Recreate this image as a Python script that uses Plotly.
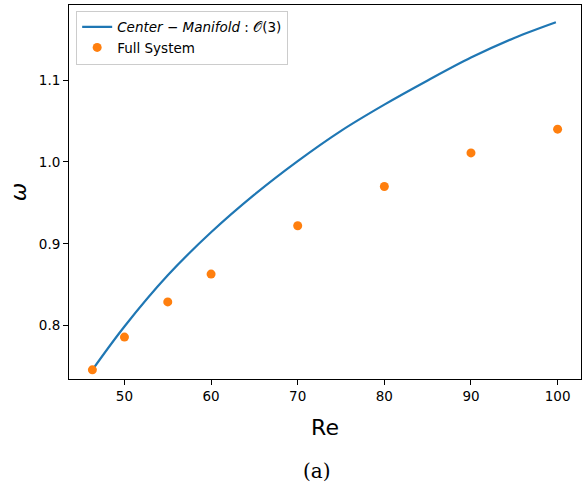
import plotly.graph_objects as go

# Center-manifold O(3) prediction
re_cm = [46.3, 50.0, 55.0, 60.0, 65.0, 70.0, 75.0, 80.0, 85.0, 90.0, 95.0, 99.8]
omega_cm = [0.746, 0.799, 0.8615, 0.914, 0.960, 1.001, 1.038, 1.070, 1.0995, 1.1275, 1.1515, 1.1707]

# Full system points
re_full = [46.3, 50, 55, 60, 70, 80, 90, 100]
omega_full = [0.746, 0.786, 0.829, 0.863, 0.922, 0.970, 1.011, 1.040]

x_ticks = [50, 60, 70, 80, 90, 100]
y_ticks = [0.8, 0.9, 1.0, 1.1]

fig = go.Figure()
fig.add_trace(go.Scatter(
    x=re_cm, y=omega_cm, mode="lines", line_shape="spline",
    line=dict(color="#1f77b4", width=2.2),
    name="<i>Center</i> − <i>Manifold</i> : 𝒪(3)",
))
fig.add_trace(go.Scatter(
    x=re_full, y=omega_full, mode="markers",
    marker=dict(color="#ff7f0e", size=9),
    name="Full System",
))

axis_common = dict(
    showline=True, linecolor="black", linewidth=1, mirror=True,
    ticks="outside", ticklen=5, tickwidth=1, tickcolor="black",
    showgrid=False, zeroline=False,
    tickfont=dict(family="DejaVu Sans", size=13.5, color="black"),
)

fig.update_layout(
    width=584, height=484,
    margin=dict(l=69, r=3, t=5, b=105),
    plot_bgcolor="white", paper_bgcolor="white",
    font=dict(family="DejaVu Sans", color="black"),
    xaxis=dict(range=[43.6, 102.7], tickvals=x_ticks,
               title=dict(text="Re", font=dict(size=22), standoff=16),
               **axis_common),
    yaxis=dict(range=[0.7348, 1.1917], tickvals=y_ticks, tickformat=".1f",
               title=dict(text="<i>ω</i>", font=dict(size=22), standoff=6),
               **axis_common),
    legend=dict(x=0.014, y=0.985, xanchor="left", yanchor="top",
                bgcolor="rgba(255,255,255,0.8)", bordercolor="#cccccc", borderwidth=1,
                font=dict(family="DejaVu Sans", size=13.5), tracegroupgap=0,
                itemwidth=30),
    showlegend=True,
    annotations=[dict(text="(a)", x=0.484, y=-0.245, xref="paper", yref="paper",
                      xanchor="center", yanchor="middle", showarrow=False,
                      font=dict(family="DejaVu Serif", size=20, color="black"))],
)

fig.write_html("out.html")
